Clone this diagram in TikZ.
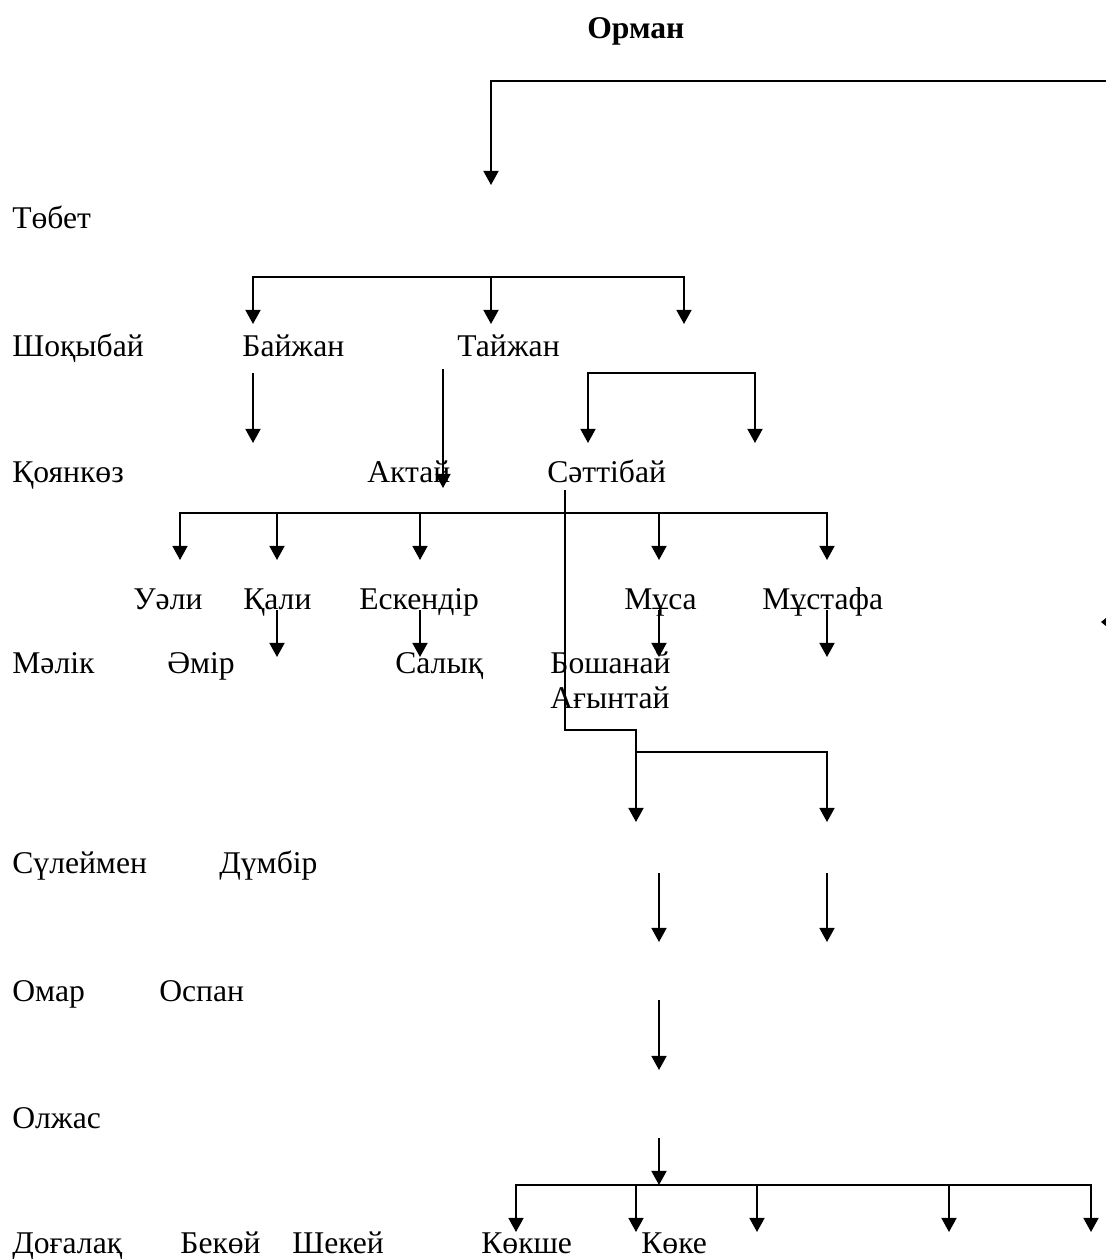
\documentclass[tikz,border=0pt]{standalone}
\usepackage{fontspec}
\setmainfont{Liberation Serif}
\usetikzlibrary{arrows.meta}
\tikzset{
	lbl/.style={anchor=base west,inner sep=0pt,font=\fontsize{18}{20}\selectfont},
	line/.style={line width=1.1pt},
	arr/.style={line width=1.1pt,-{Triangle[width=8.5pt,length=8pt]}},
	arrboth/.style={line width=1.1pt,{Triangle[width=8.5pt,length=8pt]}-{Triangle[width=8.5pt,length=8pt]}}
}
\begin{document}
\begin{tikzpicture}[x=0.02cm,y=-0.02cm]
		\useasboundingbox (0,0) rectangle (1106,1259);
		
		\node[lbl,font=\fontsize{18}{20}\selectfont\bfseries] (orman) at (587,38) {Орман};
		\node[lbl] (tobet) at (12,228) {Төбет};
		\node[lbl] (shokybai) at (12,356) {Шоқыбай};
		\node[lbl] (baizhan) at (242,356) {Байжан};
		\node[lbl] (taizhan) at (457,356) {Тайжан};
		\node[lbl] (koyankoz) at (12,482) {Қоянкөз};
		\node[lbl] (aktai) at (367,482) {Актай};
		\node[lbl] (sattibai) at (547,482) {Сәттібай};
		\node[lbl] (uali) at (133,609) {Уәли};
		\node[lbl] (kali) at (243,609) {Қали};
		\node[lbl] (eskendir) at (359,609) {Ескендір};
		\node[lbl] (musa) at (624,609) {Мұса};
		\node[lbl] (mustafa) at (762,609) {Мұстафа};
		\node[lbl] (malik) at (12,673) {Мәлік};
		\node[lbl] (amir) at (167,673) {Әмір};
		\node[lbl] (salyk) at (395,673) {Салық};
		\node[lbl] (boshanai) at (550,673) {Бошанай};
		\node[lbl] (agyntai) at (550,708) {Ағынтай};
		\node[lbl] (suleimen) at (12,873) {Сүлеймен};
		\node[lbl] (dumbir) at (219,873) {Дүмбір};
		\node[lbl] (omar) at (12,1001) {Омар};
		\node[lbl] (ospan) at (159,1001) {Оспан};
		\node[lbl] (olzhas) at (12,1128) {Олжас};
		\node[lbl] (dogalak) at (12,1253) {Доғалақ};
		\node[lbl] (bekoi) at (180,1253) {Бекөй};
		\node[lbl] (shekei) at (292,1253) {Шекей};
		\node[lbl] (kokshe) at (481,1253) {Көкше};
		\node[lbl] (koke) at (641,1253) {Көке};
		
		\coordinate (a0) at (1106,81);
		\coordinate (a1) at (491,81);
		\coordinate (a2) at (491,185);
		\draw[arr] (a0) -- (a1) -- (a2);
		
		\coordinate (b1) at (253,277);
		\coordinate (b2) at (491,277);
		\coordinate (b3) at (684,277);
		\coordinate (b1d) at (253,324);
		\coordinate (b2d) at (491,324);
		\coordinate (b3d) at (684,324);
		\draw[arrboth] (b1d) -- (b1) -- (b3) -- (b3d);
		\draw[arr] (b2) -- (b2d);
		
		\coordinate (c1) at (253,373);
		\coordinate (c1d) at (253,443);
		\coordinate (c2) at (443,369);
		\coordinate (c2d) at (443,488);
		\coordinate (c3) at (588,373);
		\coordinate (c4) at (755,373);
		\coordinate (c3d) at (588,443);
		\coordinate (c4d) at (755,443);
		\draw[arr] (c1) -- (c1d);
		\draw[arr] (c2) -- (c2d);
		\draw[arrboth] (c3d) -- (c3) -- (c4) -- (c4d);
		
		\coordinate (d1) at (180,513);
		\coordinate (d2) at (277,513);
		\coordinate (d3) at (420,513);
		\coordinate (d4) at (659,513);
		\coordinate (d5) at (827,513);
		\coordinate (d1d) at (180,560);
		\coordinate (d2d) at (277,560);
		\coordinate (d3d) at (420,560);
		\coordinate (d4d) at (659,560);
		\coordinate (d5d) at (827,560);
		\draw[arrboth] (d1d) -- (d1) -- (d5) -- (d5d);
		\draw[arr] (d2) -- (d2d);
		\draw[arr] (d3) -- (d3d);
		\draw[arr] (d4) -- (d4d);
		
		\coordinate (e1) at (277,610);
		\coordinate (e2) at (420,610);
		\coordinate (e3) at (659,610);
		\coordinate (e4) at (827,610);
		\coordinate (e1d) at (277,657);
		\coordinate (e2d) at (420,657);
		\coordinate (e3d) at (659,657);
		\coordinate (e4d) at (827,657);
		\draw[arr] (e1) -- (e1d);
		\draw[arr] (e2) -- (e2d);
		\draw[arr] (e3) -- (e3d);
		\draw[arr] (e4) -- (e4d);
		
		\fill (1101,622) -- (1106,618) -- (1106,626) -- cycle;
		
		\coordinate (s0) at (565,490);
		\coordinate (s1) at (565,730);
		\coordinate (s2) at (636,730);
		\coordinate (s2d) at (636,822);
		\coordinate (s3) at (636,752);
		\coordinate (s4) at (827,752);
		\coordinate (s4d) at (827,822);
		\draw[arr] (s0) -- (s1) -- (s2) -- (s2d);
		\draw[arr] (s3) -- (s4) -- (s4d);
		
		\coordinate (f1) at (659,873);
		\coordinate (f1d) at (659,942);
		\coordinate (f2) at (827,873);
		\coordinate (f2d) at (827,942);
		\coordinate (g1) at (659,1000);
		\coordinate (g1d) at (659,1070);
		\coordinate (h1) at (659,1138);
		\coordinate (h1d) at (659,1185);
		\draw[arr] (f1) -- (f1d);
		\draw[arr] (f2) -- (f2d);
		\draw[arr] (g1) -- (g1d);
		\draw[arr] (h1) -- (h1d);
		
		\coordinate (k1) at (516,1185);
		\coordinate (k2) at (636,1185);
		\coordinate (k3) at (757,1185);
		\coordinate (k4) at (949,1185);
		\coordinate (k5) at (1091,1185);
		\coordinate (k1d) at (516,1232);
		\coordinate (k2d) at (636,1232);
		\coordinate (k3d) at (757,1232);
		\coordinate (k4d) at (949,1232);
		\coordinate (k5d) at (1091,1232);
		\draw[arrboth] (k1d) -- (k1) -- (k5) -- (k5d);
		\draw[arr] (k2) -- (k2d);
		\draw[arr] (k3) -- (k3d);
		\draw[arr] (k4) -- (k4d);
		
		\end{tikzpicture}
\end{document}
